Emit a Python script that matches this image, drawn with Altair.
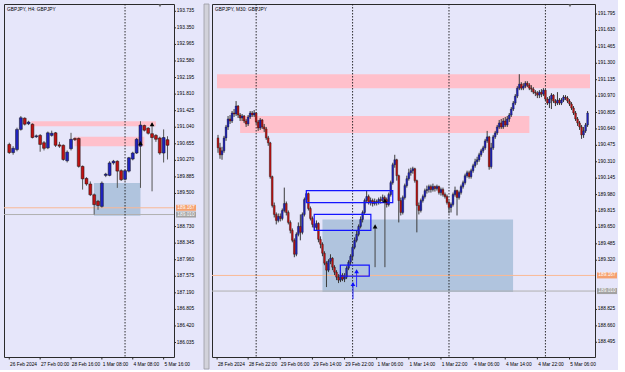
import altair as alt
import pandas as pd

# ---------------- left window: GBPJPY, H4 ----------------
h4_open = [190.64, 190.45, 190.52, 190.99, 191.25, 191.12, 191.11, 190.82, 190.85, 190.68,
           190.56, 190.85, 190.91, 190.63, 190.62, 190.26, 190.54, 190.78, 190.78, 190.13,
           189.85, 189.72, 189.47, 189.32, 189.20, 189.92, 189.92, 190.21, 190.25, 190.03,
           189.83, 190.02, 190.30, 190.44, 190.60, 191.08, 191.02, 190.89, 190.85, 190.79,
           190.44, 190.75]
h4_close = [190.45, 190.55, 190.99, 191.26, 191.11, 191.16, 190.80, 190.84, 190.64, 190.55,
            190.91, 190.90, 190.62, 190.60, 190.29, 190.46, 190.76, 190.75, 190.13, 189.84,
            189.72, 189.47, 189.24, 189.22, 189.74, 189.95, 190.21, 190.25, 190.02, 189.82,
            190.03, 190.33, 190.44, 190.76, 191.09, 190.97, 190.90, 190.80, 190.76, 190.44,
            190.80, 190.62]
h4_high = [190.68, 190.60, 191.03, 191.30, 191.27, 191.19, 191.13, 190.87, 190.88, 190.72,
           190.94, 190.96, 190.93, 190.70, 190.64, 190.50, 190.91, 190.80, 190.80, 190.15,
           189.88, 189.78, 189.50, 189.35, 189.78, 189.98, 190.25, 190.28, 190.27, 190.06,
           190.06, 190.35, 190.47, 190.79, 191.18, 191.10, 191.04, 191.14, 190.88, 190.82,
           190.99, 190.83]
h4_low = [190.42, 190.40, 190.48, 190.96, 191.08, 191.09, 190.78, 190.79, 190.47, 190.50,
          190.53, 190.82, 190.58, 190.56, 190.26, 190.22, 190.50, 190.72, 190.10, 189.59,
          189.68, 189.44, 189.01, 189.12, 189.17, 189.88, 189.90, 190.17, 189.63, 189.79,
          189.80, 189.99, 190.27, 190.42, 189.63, 190.94, 190.87, 189.55, 190.70, 190.40,
          190.22, 190.29]
h4_time_ticks = [0, 8, 16, 24, 32, 40]
h4_time_labels = ["26 Feb 2024", "27 Feb 00:00", "28 Feb 16:00", "1 Mar 08:00",
                  "4 Mar 08:00", "5 Mar 16:00"]
h4_price_ticks = [193.735, 193.350, 192.965, 192.580, 192.195, 191.810, 191.425, 191.040,
                  190.655, 190.270, 189.885, 189.500, 188.730, 188.345, 187.960, 187.575,
                  187.190, 186.805, 186.420, 186.035]
h4_separators = [30]
h4_zone_start = [5.7, 16.9, 21.95]
h4_zone_end = [38.0, 35.0, 34.0]
h4_zone_top = [191.18, 190.82, 189.745]
h4_zone_bottom = [191.065, 190.60, 188.98]
h4_zone_kind = ["supply", "supply", "demand"]
h4_signal_bar = [34, 37]
h4_signal_price = [190.67, 191.11]

# ---------------- right window: GBPJPY, M30 ----------------
m30_open = [190.55, 190.45, 190.38, 190.42, 190.55, 190.66, 190.74, 190.72, 190.80, 190.79,
            190.87, 190.78, 190.75, 190.77, 190.72, 190.69, 190.76, 190.80, 190.78, 190.80,
            190.71, 190.65, 190.73, 190.66, 190.64, 190.55, 190.50, 190.16, 189.87, 189.78,
            189.72, 189.76, 189.74, 189.82, 189.89, 189.80, 189.70, 189.62, 189.52, 189.38,
            189.58, 189.66, 189.60, 189.78, 189.93, 189.99, 189.84, 189.74, 189.68, 189.65,
            189.69, 189.53, 189.48, 189.39, 189.29, 189.22, 189.31, 189.34, 189.25, 189.20,
            189.15, 189.12, 189.17, 189.13, 189.15, 189.24, 189.30, 189.36, 189.45, 189.52,
            189.58, 189.66, 189.73, 189.80, 189.92, 189.96, 189.90, 189.92, 189.89, 189.91,
            189.90, 189.93, 189.92, 189.95, 189.93, 189.88, 189.98, 190.10, 190.28, 190.33,
            190.17, 189.92, 189.80, 189.95, 190.07, 190.14, 190.20, 190.22, 190.24, 190.12,
            189.87, 189.82, 189.92, 189.96, 190.02, 190.03, 190.06, 190.03, 190.06, 190.04,
            190.06, 190.00, 190.03, 189.98, 189.96, 189.90, 189.85, 189.88, 189.98, 190.02,
            189.95, 190.00, 190.06, 190.10, 190.17, 190.20, 190.16, 190.22, 190.27, 190.31,
            190.33, 190.38, 190.42, 190.45, 190.52, 190.56, 190.26, 190.45, 190.56, 190.60,
            190.66, 190.70, 190.66, 190.72, 190.68, 190.74, 190.78, 190.84, 190.90, 190.97,
            191.05, 191.09, 191.05, 191.07, 191.10, 191.08, 191.05, 191.04, 191.01, 191.00,
            190.98, 191.01, 190.99, 191.03, 190.94, 190.90, 190.94, 190.98, 190.92, 190.90,
            190.93, 190.90, 190.93, 190.96, 190.95, 190.92, 190.89, 190.85, 190.80, 190.74,
            190.70, 190.66, 190.58, 190.62, 190.68]
m30_close = [190.45, 190.38, 190.42, 190.55, 190.66, 190.74, 190.72, 190.80, 190.79, 190.87,
             190.78, 190.75, 190.77, 190.72, 190.69, 190.76, 190.80, 190.78, 190.80, 190.71,
             190.65, 190.73, 190.66, 190.64, 190.55, 190.50, 190.16, 189.87, 189.78, 189.72,
             189.76, 189.74, 189.82, 189.89, 189.80, 189.70, 189.62, 189.52, 189.38, 189.58,
             189.66, 189.60, 189.78, 189.93, 189.99, 189.84, 189.74, 189.68, 189.65, 189.69,
             189.53, 189.48, 189.39, 189.29, 189.22, 189.31, 189.34, 189.25, 189.20, 189.15,
             189.12, 189.17, 189.13, 189.15, 189.24, 189.30, 189.36, 189.45, 189.52, 189.58,
             189.66, 189.73, 189.80, 189.92, 189.96, 189.90, 189.92, 189.89, 189.91, 189.90,
             189.93, 189.92, 189.95, 189.93, 189.88, 189.98, 190.10, 190.28, 190.33, 190.17,
             189.92, 189.80, 189.95, 190.07, 190.14, 190.20, 190.22, 190.24, 190.12, 189.87,
             189.82, 189.92, 189.96, 190.02, 190.03, 190.06, 190.03, 190.06, 190.04, 190.06,
             190.00, 190.03, 189.98, 189.96, 189.90, 189.85, 189.88, 189.98, 190.02, 189.95,
             190.00, 190.06, 190.10, 190.17, 190.20, 190.16, 190.22, 190.27, 190.31, 190.33,
             190.38, 190.42, 190.45, 190.52, 190.56, 190.26, 190.45, 190.56, 190.60, 190.66,
             190.70, 190.66, 190.72, 190.68, 190.74, 190.78, 190.84, 190.90, 190.97, 191.05,
             191.09, 191.05, 191.07, 191.10, 191.08, 191.05, 191.04, 191.01, 191.00, 190.98,
             191.01, 190.99, 191.03, 190.94, 190.90, 190.94, 190.98, 190.92, 190.90, 190.93,
             190.90, 190.93, 190.96, 190.95, 190.92, 190.89, 190.85, 190.80, 190.74, 190.70,
             190.66, 190.58, 190.62, 190.68, 190.80]
m30_high = [190.58, 190.50, 190.46, 190.57, 190.68, 190.77, 190.78, 190.82, 190.84, 190.92,
            190.88, 190.80, 190.79, 190.78, 190.74, 190.78, 190.82, 190.82, 190.83, 190.81,
            190.73, 190.75, 190.74, 190.69, 190.66, 190.57, 190.51, 190.17, 189.90, 189.80,
            189.79, 189.79, 189.84, 190.05, 189.91, 189.82, 189.72, 189.64, 189.54, 189.60,
            189.70, 189.78, 189.80, 189.95, 190.02, 190.00, 189.86, 189.76, 189.72, 189.72,
            189.70, 189.56, 189.50, 189.41, 189.31, 189.33, 189.38, 189.35, 189.27, 189.22,
            189.18, 189.20, 189.19, 189.19, 189.26, 189.32, 189.38, 189.47, 189.55, 189.62,
            189.68, 189.76, 189.82, 189.94, 190.02, 189.98, 189.95, 189.94, 189.94, 189.93,
            189.95, 189.96, 189.98, 189.97, 189.95, 190.00, 190.12, 190.30, 190.38, 190.34,
            190.18, 189.95, 189.97, 190.09, 190.17, 190.24, 190.25, 190.26, 190.25, 190.13,
            189.90, 189.94, 189.98, 190.04, 190.07, 190.08, 190.08, 190.09, 190.07, 190.08,
            190.07, 190.05, 190.05, 190.00, 189.98, 189.92, 189.90, 190.00, 190.06, 190.03,
            190.02, 190.08, 190.12, 190.19, 190.22, 190.22, 190.24, 190.29, 190.34, 190.36,
            190.40, 190.44, 190.47, 190.54, 190.62, 190.57, 190.50, 190.58, 190.62, 190.68,
            190.73, 190.74, 190.75, 190.76, 190.77, 190.80, 190.86, 190.92, 190.99, 191.07,
            191.19, 191.11, 191.10, 191.12, 191.12, 191.10, 191.08, 191.06, 191.03, 191.02,
            191.03, 191.04, 191.05, 191.04, 190.96, 190.97, 191.00, 190.99, 190.94, 191.01,
            190.95, 190.95, 190.98, 190.98, 190.97, 190.94, 190.91, 190.87, 190.82, 190.76,
            190.72, 190.68, 190.66, 190.70, 190.82]
m30_low = [190.40, 190.34, 190.33, 190.40, 190.52, 190.63, 190.69, 190.70, 190.76, 190.77,
           190.75, 190.72, 190.72, 190.70, 190.66, 190.67, 190.74, 190.76, 190.76, 190.69,
           190.62, 190.63, 190.64, 190.61, 190.53, 190.47, 190.14, 189.85, 189.75, 189.68,
           189.70, 189.71, 189.72, 189.80, 189.77, 189.68, 189.59, 189.50, 189.35, 189.36,
           189.56, 189.52, 189.58, 189.76, 189.90, 189.82, 189.72, 189.65, 189.62, 189.62,
           189.50, 189.44, 189.36, 189.27, 189.05, 189.20, 189.28, 189.22, 189.17, 189.12,
           189.09, 189.10, 189.11, 189.10, 189.13, 189.22, 189.27, 189.33, 189.43, 189.50,
           189.56, 189.64, 189.70, 189.78, 189.90, 189.88, 189.87, 189.86, 189.87, 189.87,
           189.88, 189.89, 189.90, 189.91, 189.85, 189.86, 189.96, 190.08, 190.25, 190.12,
           189.70, 189.77, 189.78, 189.93, 190.05, 190.12, 190.17, 190.19, 190.10, 189.60,
           189.78, 189.80, 189.90, 189.94, 189.99, 190.00, 190.00, 190.01, 190.01, 190.02,
           189.98, 189.97, 189.96, 189.94, 189.88, 189.79, 189.80, 189.86, 189.96, 189.77,
           189.93, 189.98, 190.04, 190.08, 190.15, 190.14, 190.14, 190.20, 190.25, 190.28,
           190.31, 190.36, 190.40, 190.43, 190.50, 190.23, 190.24, 190.43, 190.54, 190.58,
           190.64, 190.64, 190.64, 190.66, 190.66, 190.71, 190.76, 190.82, 190.88, 190.95,
           191.03, 191.03, 191.03, 191.05, 191.06, 191.03, 191.01, 190.99, 190.97, 190.95,
           190.95, 190.96, 190.97, 190.92, 190.88, 190.85, 190.84, 190.90, 190.87, 190.88,
           190.88, 190.88, 190.91, 190.93, 190.90, 190.87, 190.83, 190.78, 190.72, 190.67,
           190.63, 190.54, 190.55, 190.60, 190.66]
m30_time_ticks = [-0.45, 15, 31, 47, 63, 79, 95, 111, 127, 143, 159, 175]
m30_time_labels = ["28 Feb 2024", "28 Feb 22:00", "29 Feb 06:00", "29 Feb 14:00",
                   "29 Feb 22:00", "1 Mar 06:00", "1 Mar 14:00", "1 Mar 22:00",
                   "4 Mar 06:00", "4 Mar 14:00", "4 Mar 22:00", "5 Mar 06:00"]
m30_price_ticks = [191.795, 191.630, 191.465, 191.300, 191.135, 190.970, 190.805, 190.640,
                   190.475, 190.310, 190.145, 189.980, 189.815, 189.650, 189.485, 189.320,
                   188.825, 188.660, 188.495]
m30_separators = [19, 67, 115, 163]
m30_zone_start = [-0.5, 11.0, 52.0]
m30_zone_end = [185.2, 155.0, 146.9]
m30_zone_top = [191.19, 190.77, 189.73]
m30_zone_bottom = [191.05, 190.60, 189.00]
m30_zone_kind = ["supply", "supply", "demand"]
m30_box_start = [44.0, 47.9, 60.9]
m30_box_end = [87.0, 76.1, 75.3]
m30_box_top = [190.02, 189.78, 189.27]
m30_box_bottom = [189.90, 189.62, 189.16]
m30_arrow_bar = [78.2, 83.1, 69.0, 67.2]
m30_arrow_head = [189.66, 189.92, 189.21, 189.08]
m30_arrow_tail = [189.25, 189.25, 189.05, 188.93]
m30_arrow_kind = ["black", "black", "blue", "blue"]

# horizontal price lines shown in both windows
level_price = [189.167, 189.010]
level_kind = ["line", "bid"]

# ---------------- styling ----------------
FONT = "Liberation Sans"
FS = 4.8
LAV = "#e6e6fa"
FRAME = "#2a2a2a"
BULL = "#1f22c0"
BEAR = "#c01212"
PINK = "#ffc0cb"
STEEL = "#b0c4de"
ORANGE_LINE = "#f9b995"
ORANGE_TAG = "#f5a06e"
GRAY_LINE = "#b0b0b0"
GRAY_TAG = "#a2a2a2"
TAG = "M-1,-0.3L1,-0.3L1,0.3L-1,0.3Z"
H = 353


def panel(W, xdom, ydom, title, o, hi, lo, c, tvals, tlabels, pvals, seps,
          zs, ze, zt, zb, zk, body_size, body_stroke, wick_color, shift_x):
    xs = alt.Scale(domain=xdom, nice=False, zero=False)
    ys = alt.Scale(domain=ydom, nice=False, zero=False)

    def X(f):
        return alt.X(f, scale=xs, axis=None)

    def Y(f):
        return alt.Y(f, scale=ys, axis=None)

    zdf = pd.DataFrame({"x0": zs, "x1": ze, "y0": zt, "y1": zb, "kind": zk})
    zones = alt.Chart(zdf).mark_rect(clip=True).encode(
        x=X("x0:Q"), x2="x1:Q", y=Y("y0:Q"), y2="y1:Q",
        color=alt.condition("datum.kind == 'demand'", alt.value(STEEL), alt.value(PINK)))

    ldf = pd.DataFrame({"p": level_price, "kind": level_kind})
    levels = alt.Chart(ldf).mark_rule(strokeWidth=1, clip=True).encode(
        y=Y("p:Q"),
        color=alt.condition("datum.kind == 'bid'", alt.value(GRAY_LINE), alt.value(ORANGE_LINE)))

    sdf = pd.DataFrame({"s": seps})
    sep = alt.Chart(sdf).mark_rule(strokeDash=[1.5, 1.5], strokeWidth=0.9,
                                   color="#1a1a1a").encode(x=X("s:Q"))

    cdf = pd.DataFrame({"i": list(range(len(o))), "o": o, "h": hi, "l": lo, "c": c})
    wick = alt.Chart(cdf).mark_rule(color=wick_color, strokeWidth=1, clip=True).encode(
        x=X("i:Q"), y=Y("l:Q"), y2="h:Q")
    body = alt.Chart(cdf).mark_bar(size=body_size, stroke="#111111",
                                   strokeWidth=body_stroke, clip=True).encode(
        x=X("i:Q"), y=Y("o:Q"), y2="c:Q",
        color=alt.condition("datum.c >= datum.o", alt.value(BULL), alt.value(BEAR)))

    # price scale (right) and time scale (bottom), drawn through the same scales
    pdf = pd.DataFrame({"v": pvals})
    ptick = alt.Chart(pdf).mark_rule(color=FRAME, strokeWidth=1).encode(
        y=Y("v:Q"), x=alt.value(W), x2=alt.value(W + 2))
    plab = alt.Chart(pdf).mark_text(font=FONT, fontSize=FS, color="#000000",
                                    align="left", baseline="middle").encode(
        y=Y("v:Q"), x=alt.value(W + 2.8), text=alt.Text("v:Q", format=".3f"))
    tdf = pd.DataFrame({"v": tvals, "lab": tlabels})
    ttick = alt.Chart(tdf).mark_rule(color=FRAME, strokeWidth=1).encode(
        x=X("v:Q"), y=alt.value(H), y2=alt.value(H + 2.5))
    tlab = alt.Chart(tdf).mark_text(font=FONT, fontSize=FS, color="#000000",
                                    align="left", baseline="top", dx=0.8).encode(
        x=X("v:Q"), y=alt.value(H + 4.5), text="lab:N")

    tag = alt.Chart(ldf).mark_point(shape=TAG, size=400, filled=True, opacity=1).encode(
        x=alt.value(W + 12), y=Y("p:Q"),
        color=alt.condition("datum.kind == 'bid'", alt.value(GRAY_TAG), alt.value(ORANGE_TAG)))
    tag_text = alt.Chart(ldf).mark_text(font=FONT, fontSize=FS, color="white",
                                        align="center", baseline="middle").encode(
        x=alt.value(W + 12), y=Y("p:Q"), text=alt.Text("p:Q", format=".3f"))

    ttl = alt.Chart(pd.DataFrame({"t": [title]})).mark_text(
        font=FONT, fontSize=FS, color="#000000", align="left", baseline="top").encode(
        x=alt.value(3), y=alt.value(3), text="t:N")

    shift = alt.Chart(pd.DataFrame({"t": [title]})).mark_point(
        shape="triangle-down", filled=True, size=10, color="#707070", opacity=1).encode(
        x=alt.value(shift_x), y=alt.value(1.8))

    back = [zones, levels, sep, ptick, plab, ttick, tlab]
    front = [tag, tag_text, ttl, shift]
    return wick, body, back, front, xs, ys


# left panel
lw, lb, lback, lfront, lxs, lys = panel(
    170, [-0.07, 41.39], [185.698, 193.905], "GBPJPY, H4:  GBPJPY",
    h4_open, h4_high, h4_low, h4_close, h4_time_ticks, h4_time_labels,
    h4_price_ticks, h4_separators, h4_zone_start, h4_zone_end,
    h4_zone_top, h4_zone_bottom, h4_zone_kind, 2.9, 0.5, "#555555", 156)
sig = alt.Chart(pd.DataFrame({"i": h4_signal_bar, "p": h4_signal_price})).mark_point(
    shape="triangle-up", filled=True, size=22, color="#000000", opacity=1).encode(
    x=alt.X("i:Q", scale=lxs, axis=None), y=alt.Y("p:Q", scale=lys, axis=None))
left = alt.layer(*lback, lw, lb, sig, *lfront).properties(width=170, height=H)

# right panel
rw, rb, rback, rfront, rxs, rys = panel(
    383, [-0.5, 185.2], [188.347, 191.896], "GBPJPY, M30:  GBPJPY",
    m30_open, m30_high, m30_low, m30_close, m30_time_ticks,
    m30_time_labels, m30_price_ticks, m30_separators, m30_zone_start,
    m30_zone_end, m30_zone_top, m30_zone_bottom, m30_zone_kind,
    1.8, 0.35, "#3a3a3a", 358)
bdf = pd.DataFrame({"x0": m30_box_start, "x1": m30_box_end,
                    "y0": m30_box_top, "y1": m30_box_bottom})
boxes = alt.Chart(bdf).mark_rect(fill=None, stroke="#1414ff", strokeWidth=1.2,
                                 clip=True).encode(
    x=alt.X("x0:Q", scale=rxs, axis=None), x2="x1:Q",
    y=alt.Y("y0:Q", scale=rys, axis=None), y2="y1:Q")
adf = pd.DataFrame({"i": m30_arrow_bar, "head": m30_arrow_head, "tail": m30_arrow_tail,
                    "kind": m30_arrow_kind})
stems = alt.Chart(adf).mark_rule(strokeWidth=1, clip=True).encode(
    x=alt.X("i:Q", scale=rxs, axis=None),
    y=alt.Y("tail:Q", scale=rys, axis=None), y2="head:Q",
    color=alt.condition("datum.kind == 'blue'", alt.value("#2a2aff"), alt.value("#444444")))
heads = alt.Chart(adf).mark_point(shape="triangle-up", filled=True, size=22,
                                  opacity=1).encode(
    x=alt.X("i:Q", scale=rxs, axis=None),
    y=alt.Y("head:Q", scale=rys, axis=None),
    color=alt.condition("datum.kind == 'blue'", alt.value("#1010ff"), alt.value("#000000")))
# window border between the two chart windows
border = alt.Chart(pd.DataFrame({"t": ["border"]})).mark_rect(
    fill="#d2d2da", stroke="#9a9aa2", strokeWidth=0.8).encode(
    x=alt.value(-8), x2=alt.value(-3), y=alt.value(0), y2=alt.value(H + 12))
right = alt.layer(border, *rback, rw, rb, boxes, stems, heads, *rfront).properties(
    width=383, height=H)

chart = alt.hconcat(left, right, spacing=38, bounds="flush").properties(
    padding={"left": 3, "top": 3, "right": 0, "bottom": 0},
    background=LAV,
).configure_view(stroke=FRAME, strokeWidth=1, fill=LAV)

chart.save("out.html", embed_options={"renderer": "svg", "actions": False})
